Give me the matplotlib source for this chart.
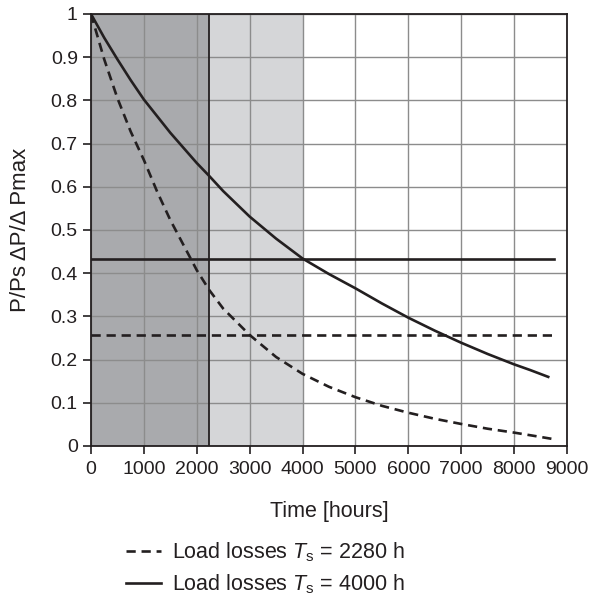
import matplotlib.pyplot as plt
from matplotlib.lines import Line2D

plt.rcParams['font.family'] = ['Liberation Sans', 'DejaVu Sans']
plt.rcParams['mathtext.fontset'] = 'custom'
plt.rcParams['mathtext.rm'] = 'Liberation Sans'
plt.rcParams['mathtext.it'] = 'Liberation Sans:italic'

# load loss curves
t_short = [0, 250, 500, 750, 1000, 1250, 1500, 1750, 2000, 2236, 2500, 3000,
           3500, 4000, 4500, 5000, 5500, 6000, 6500, 7000, 7500, 8000, 8400, 8740]
p_short = [1.0, 0.895, 0.805, 0.728, 0.662, 0.589, 0.523, 0.465, 0.407, 0.361,
           0.318, 0.257, 0.206, 0.167, 0.137, 0.113, 0.093, 0.077, 0.063, 0.051,
           0.040, 0.031, 0.023, 0.016]

t_long = [0, 250, 500, 750, 1000, 1500, 2000, 2236, 2500, 3000, 3500, 4000, 4500,
          5000, 5500, 6000, 6500, 7000, 7500, 8000, 8300, 8645]
p_long = [1.0, 0.945, 0.895, 0.847, 0.802, 0.725, 0.655, 0.625, 0.59, 0.531,
          0.48, 0.434, 0.398, 0.365, 0.33, 0.297, 0.267, 0.239, 0.213, 0.189,
          0.176, 0.160]

# equivalent levels
level_short = 0.257
level_long = 0.434
level_end = 8750

span_dark = (0, 2236)
span_light = (2236, 4000)

labels = ['Load losses $T_{\\rm s}$ = 2280 h', 'Load losses $T_{\\rm s}$ = 4000 h']

fig = plt.figure(figsize=(5.89, 6.08), dpi=100)
ax = fig.add_axes([91 / 589, 1 - 446 / 608, 476 / 589, 432 / 608])

ax.axvspan(*span_dark, color='#a9aaad', lw=0, zorder=0.1)
ax.axvspan(*span_light, color='#d5d6d8', lw=0, zorder=0.1)
ax.set_axisbelow(True)
ax.grid(True, color='#8c8c8c', lw=1.0)
ax.axvline(span_dark[1], color='#231f20', lw=1.3, zorder=2)

ax.plot(t_short, p_short, color='#231f20', lw=1.9, dashes=(3.5, 2.2), zorder=3)
ax.plot(t_long, p_long, color='#231f20', lw=1.9, zorder=3)
ax.plot([0, level_end], [level_short, level_short], color='#231f20', lw=1.9,
        dashes=(3.5, 2.2), zorder=3)
ax.plot([0, level_end], [level_long, level_long], color='#231f20', lw=1.9, zorder=3)

ax.set_xlim(0, 9000)
ax.set_ylim(0, 1)
ax.set_xticks(range(0, 9001, 1000))
yt = [i / 10 for i in range(11)]
ax.set_yticks(yt)
ax.set_yticklabels([f'{v:g}' for v in yt])
ax.tick_params(labelsize=14, color='#231f20', labelcolor='#231f20', length=6, width=1.2)
ax.tick_params(axis='x', pad=5)
for s in ax.spines.values():
    s.set_color('#231f20')
    s.set_linewidth(1.3)

ax.set_xlabel('Time [hours]', fontsize=15.5, color='#231f20', labelpad=16)
ax.set_ylabel('P/Ps \u0394P/\u0394 Pmax', fontsize=16, color='#231f20', labelpad=14)

handles = [Line2D([], [], color='#231f20', lw=1.9, dashes=(3.5, 2.2)),
           Line2D([], [], color='#231f20', lw=1.9)]
fig.legend(handles, labels, loc='upper left', bbox_to_anchor=(107 / 589, 1 - 521 / 608),
           frameon=False, fontsize=15.5, handlelength=1.6, handletextpad=0.5,
           labelspacing=0.4, labelcolor='#231f20')

fig.savefig('out.png', dpi=100)
